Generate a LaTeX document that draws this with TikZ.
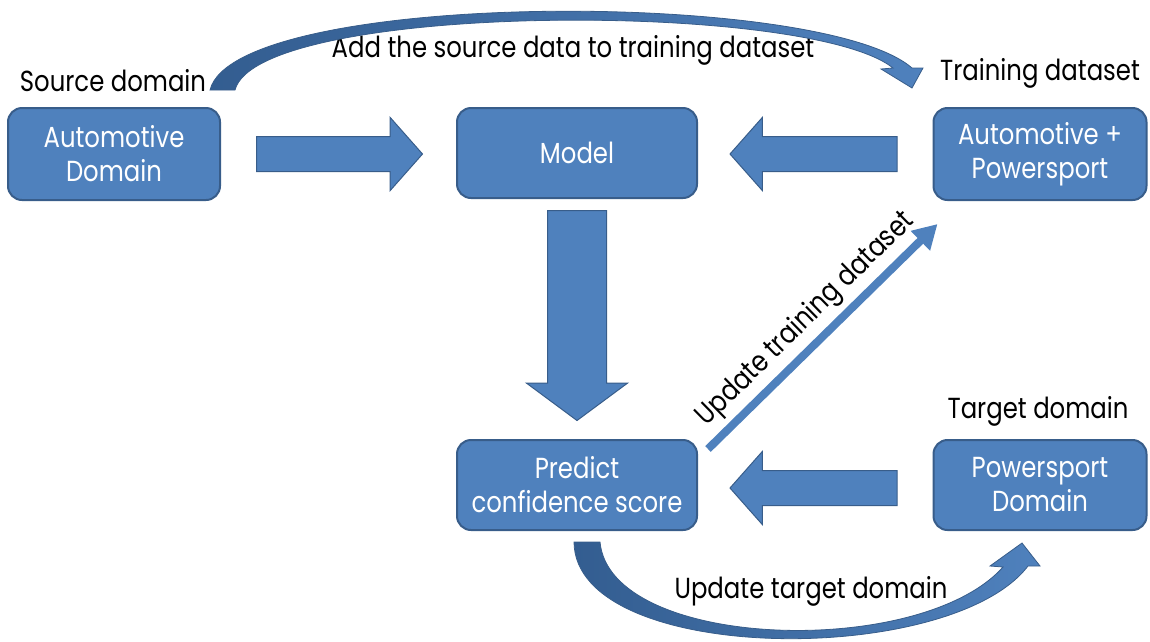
\documentclass[tikz,border=0pt]{standalone}
\usepackage{fontspec}
\setmainfont{Poppins}[FakeStretch=0.84]
\usetikzlibrary{arrows.meta,positioning,calc,shapes.arrows}
\definecolor{flowBlue}{HTML}{4F81BD}
\definecolor{flowEdge}{HTML}{385D8A}
\definecolor{flowDeep}{HTML}{335D90}

\begin{document}
\begin{tikzpicture}[x=1pt,y=-1pt,
    font=\fontsize{29}{34}\selectfont,
    dbox/.style={draw=flowEdge,fill=flowBlue,line width=2pt,rounded corners=14pt,
                 minimum width=212pt,minimum height=92pt,align=center,
                 text=white,inner sep=4pt},
    barrow/.style={single arrow,draw=flowEdge,fill=flowBlue,line width=1pt,
                   single arrow head extend=19pt,single arrow tip angle=97,
                   inner sep=17pt,anchor=tail},
    caption/.style={inner sep=0pt,text=black}]
  \useasboundingbox (0,0) rectangle (1150,641);

  % domain and model boxes
  \node[dbox] (src) at (114,154) {Automotive\\Domain};
  \node[dbox,minimum width=240pt,minimum height=90pt] (model) at (577,153) {Model};
  \node[dbox,minimum width=213pt] (train) at (1040,154) {Automotive +\\Powersport};
  \node[dbox,minimum width=240pt,minimum height=90pt] (pred) at (577,485)
    {Predict\\confidence score};
  \node[dbox,minimum width=213pt,minimum height=90pt] (tgt) at (1040,485)
    {Powersport\\Domain};

  % block arrows between the boxes
  \node[barrow,minimum height=166pt] (srcmodel) at ([shift={(35,0)}]src.east) {};
  \node[barrow,minimum height=167pt,shape border rotate=180] (trainmodel)
    at ([shift={(-35,0)}]train.west) {};
  \node[barrow,minimum height=210pt,inner sep=29pt,single arrow head extend=21pt,
        single arrow tip angle=107,shape border rotate=270] (modelpred)
    at ([shift={(0,11)}]model.south) {};
  \node[barrow,minimum height=167pt,shape border rotate=180] (tgtpred)
    at ([shift={(-35,3)}]tgt.west) {};

  % captions
  \node[caption] (srclab) at (113,81) {Source domain};
  \node[caption] (trainlab) at (1040,73) {Training dataset};
  \node[caption] (tgtlab) at (1038,411) {Target domain};
  \node[caption] (addlab) at (573,50) {Add the source data to training dataset};
  \node[caption] (updlab) at (811,591) {Update target domain};

  % curved arrows
  \shade[draw=flowEdge,line width=0.8pt,left color=flowDeep,right color=flowBlue]
    (210,90) .. controls (235,-10) and (820,-12) .. (912,68) -- (923,68) -- (912,88)
    -- (881,69) -- (893,68) .. controls (808,0) and (258,2) .. (235,90) -- cycle;
  \shade[draw=flowEdge,line width=0.8pt,left color=flowDeep,right color=flowBlue]
    (574,542) -- (600,542) .. controls (610,650) and (920,660) .. (1003,567)
    -- (990,566) -- (1022,543) -- (1040,566) -- (1028,566)
    .. controls (950,668) and (575,665) .. (574,542) -- cycle;

  % update arrow
  \draw[flowBlue,line width=8pt,-{Triangle[width=26pt,length=24pt]}]
    ([shift={(10,10)}]pred.north east) -- ([shift={(5,23)}]train.south west)
    node[caption,midway,sloped,above=5pt] (trainupd) {Update training dataset};
\end{tikzpicture}
\end{document}
